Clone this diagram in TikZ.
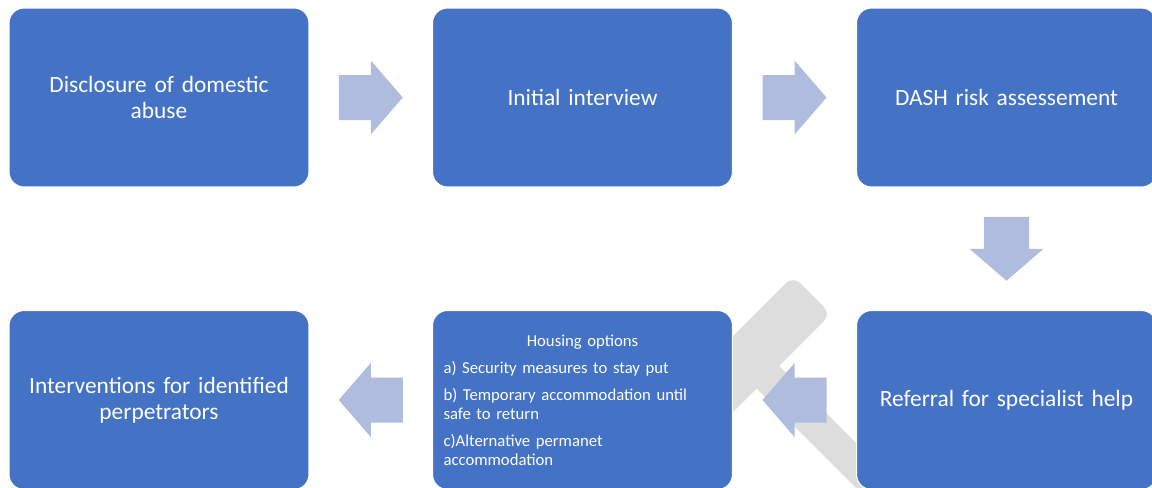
\documentclass[tikz,border=0pt]{standalone}
\usepackage{fontspec}
\setmainfont{Carlito}
\usetikzlibrary{calc}
\definecolor{boxblue}{RGB}{68,114,196}
\definecolor{arrowblue}{RGB}{176,188,222}
\definecolor{bandgrey}{RGB}{221,221,221}
\tikzset{
  stagebox/.style={draw=white, line width=0.6pt, fill=boxblue, rounded corners=0.3cm,
    minimum width=6cm, minimum height=3.58cm, text=white, align=center,
    text width=5.5cm, font=\fontsize{13.3}{14.7}\selectfont},
  flowarrow/.pic={\fill[arrowblue] (-32,-22.5) -- (0,-22.5) -- (0,-37) -- (32,0)
    -- (0,37) -- (0,22.5) -- (-32,22.5) -- cycle;}
}
\begin{document}
\begin{tikzpicture}[x=0.02cm,y=-0.02cm]
  \useasboundingbox (0,0) rectangle (1152,487);
  % grey band behind the lower row
  \fill[bandgrey] (700,369) [rounded corners=0.2cm] -- (793,276) -- (831,314)
    [sharp corners] -- (779,366) -- (900,487) -- (900,532) -- (756.5,388.5)
    -- (700,445) -- cycle;
  % top row
  \node[stagebox] (disclosure) at (159,97.5) {Disclosure of domestic\\abuse};
  \node[stagebox] (interview) at (582.5,97.5) {Initial interview};
  \node[stagebox] (dash) at (1006.5,97.5) {DASH risk assessement};
  % bottom row
  \node[stagebox] (referral) at (1006.5,400) {Referral for specialist help};
  \node[stagebox, align=left, text width=5.56cm, font=\fontsize{9.5}{10.8}\selectfont]
    (housing) at (582.5,400) {\hfill Housing options\hfill\null\\[4.5pt]
    a) Security measures to stay put\\[4.5pt]
    b) Temporary accommodation until\\ safe to return\\[4.5pt]
    c)Alternative permanet\\ accommodation};
  \node[stagebox] (perpetrators) at (159,400) {Interventions for identified\\perpetrators};
  % block arrows
  \pic at ($(disclosure.east)!0.5!(interview.west)$) {flowarrow};
  \pic at ($(interview.east)!0.5!(dash.west)$) {flowarrow};
  \pic[rotate=-90] at ($(dash.south)!0.5!(referral.north)$) {flowarrow};
  \pic[rotate=180] at ($(referral.west)!0.5!(housing.east)$) {flowarrow};
  \pic[rotate=180] at ($(housing.west)!0.5!(perpetrators.east)$) {flowarrow};
\end{tikzpicture}
\end{document}
